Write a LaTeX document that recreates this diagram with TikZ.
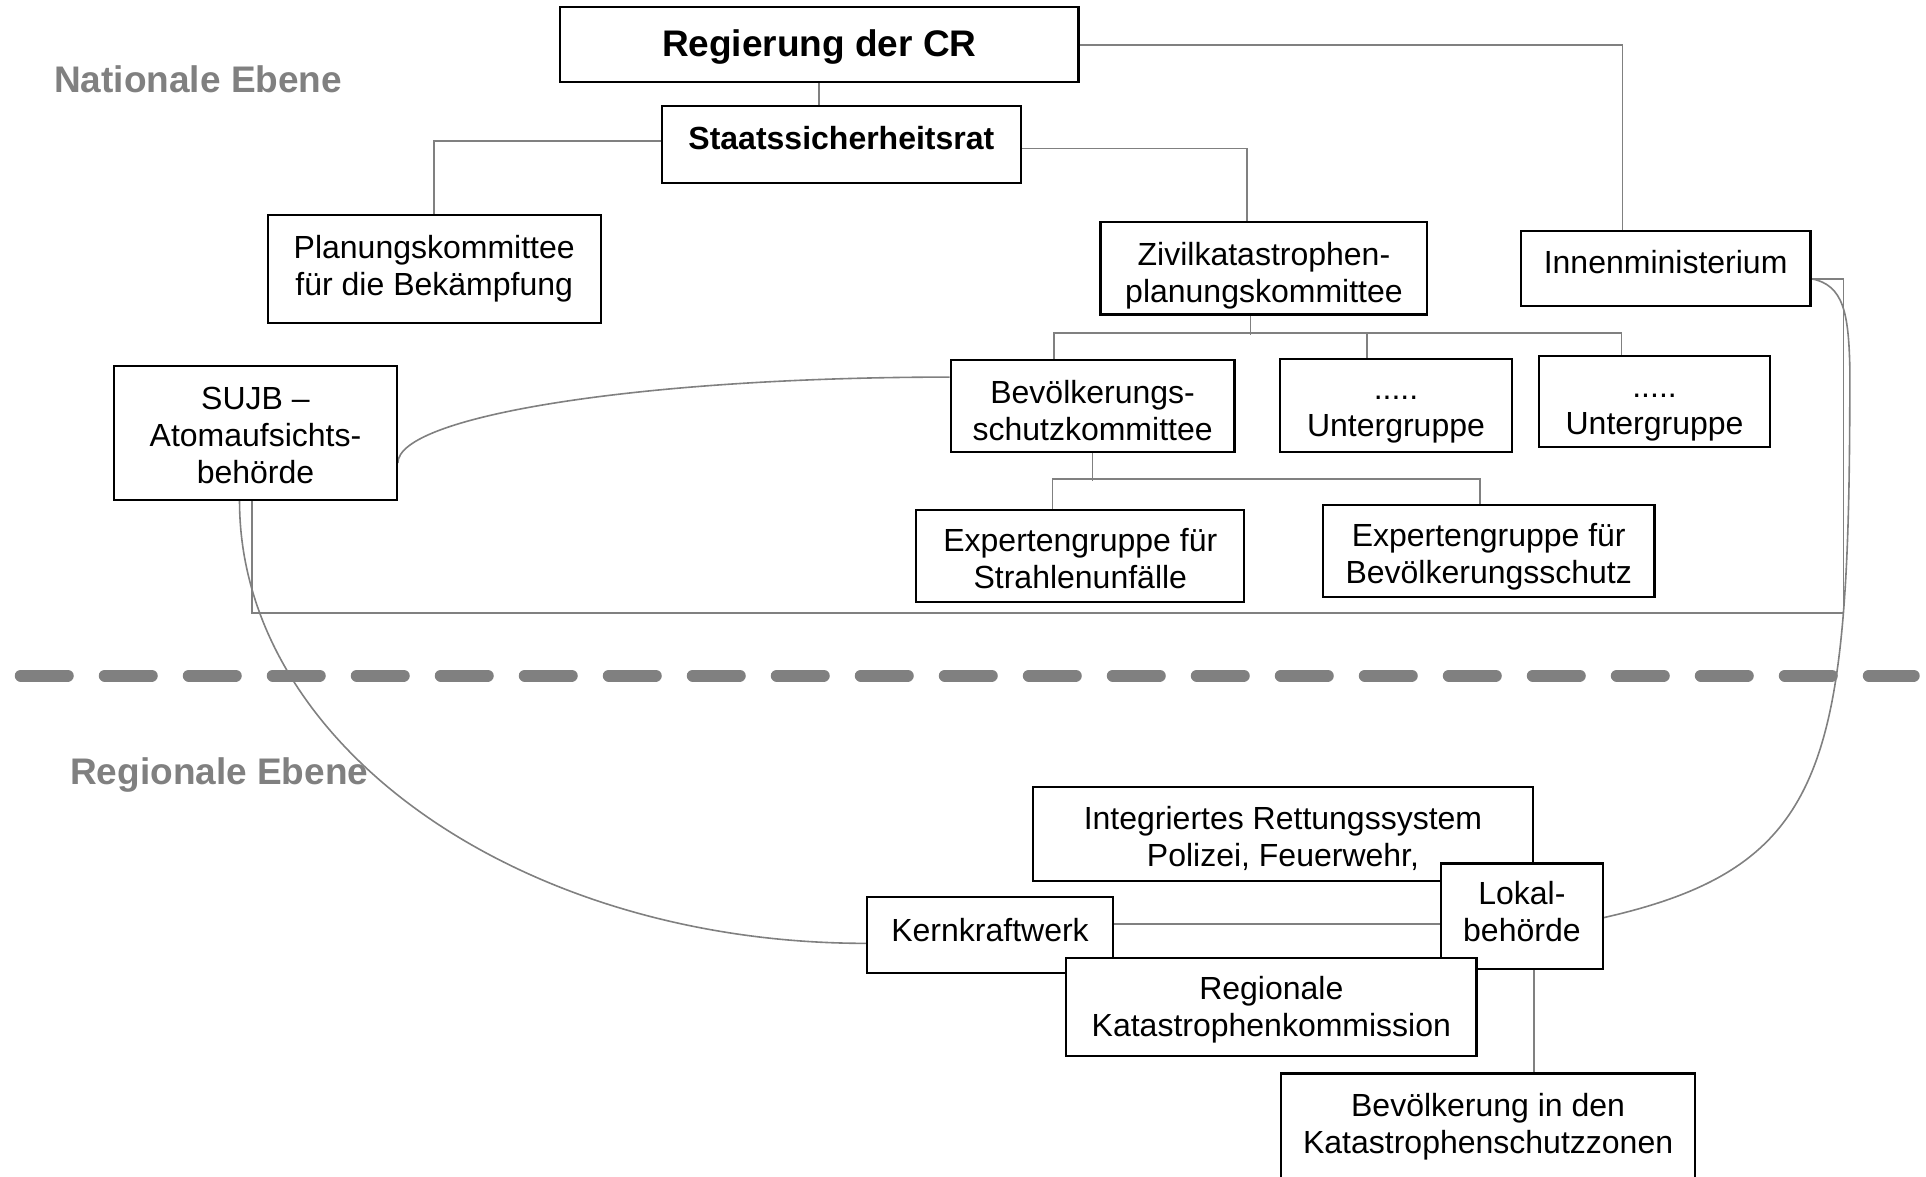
\documentclass[tikz,border=0pt]{standalone}
\usepackage{fontspec}
\setmainfont{Liberation Sans}
\usetikzlibrary{calc}
\pgfdeclarelayer{bg}
\pgfsetlayers{bg,main}
\definecolor{lgray}{HTML}{808080}
% box from (x1,y1) to (x2,y2) in reference pixels; text moved down by #8
\newcommand\bx[8][]{\node[box,minimum width={(#4-#2)*1.2283pt},minimum height={(#5-#3)*1.2283pt},
  label={[lbl,#1,yshift={-(#8)*1.2283pt}]center:{#7}}] (#6) at ({(#2+#4)/2},{(#3+#5)/2}) {};}
\begin{document}
\begin{tikzpicture}[x=1.2283pt,y=-1.2283pt,
  box/.style={draw=black, line width=2.2pt, fill=white, inner sep=0pt},
  lbl/.style={font=\fontsize{32}{37}\selectfont, align=center, inner sep=0pt},
  conn/.style={draw=lgray, line width=1.6pt},
  level/.style={text=lgray, font=\fontsize{37}{44}\selectfont\bfseries, anchor=base west, inner sep=0pt}]
\useasboundingbox (0,0) rectangle (1568,958);

% national level
\bx[font=\fontsize{37}{42}\selectfont\bfseries]{456}{6}{878}{67}{reg}{Regierung der CR}{2}
\bx[font=\fontsize{32}{37}\selectfont\bfseries]{539}{86}{831}{149}{ssr}{Staatssicherheitsrat}{-5.5}
\bx{218}{175}{489}{263}{plan}{Planungskommittee\\für die Bekämpfung}{0}
\bx{896}{181}{1162}{256}{zk}{Zivilkatastrophen-\\planungskommittee}{6}
\bx{1238}{188}{1474}{249}{inn}{Innenministerium}{-5.5}
\bx{93}{298}{323}{407}{sujb}{SUJB –\\Atomaufsichts-\\behörde}{2}
\bx{774}{293}{1005}{368}{bsk}{Bevölkerungs-\\schutzkommittee}{4}
\bx{1042}{292}{1231}{368}{ug1}{.....\\Untergruppe}{12}
\bx{1253}{290}{1441}{364}{ug2}{.....\\Untergruppe}{13}
\bx{746}{415}{1013}{490}{ex1}{Expertengruppe für\\Strahlenunfälle}{2.5}
\bx{1077}{411}{1347}{486}{ex2}{Expertengruppe für\\Bevölkerungsschutz}{5}

% regional level
\bx{841}{641}{1248}{717}{irs}{Integriertes Rettungssystem\\Polizei, Feuerwehr,}{3.5}
\bx{1173}{703}{1305}{789}{lok}{Lokal-\\behörde}{-3.5}
\bx{706}{730}{906}{792}{kkw}{Kernkraftwerk}{-4}
\bx{868}{780}{1202}{860}{rkk}{Regionale\\Katastrophenkommission}{2}
\bx{1043}{874}{1380}{975}{bevz}{Bevölkerung in den\\Katastrophenschutzzonen}{-7.5}

\coordinate (bend) at (1506,300);

\begin{pgfonlayer}{bg}
\node[level] (nat) at (44,75) {Nationale Ebene};
\node[level] (regl) at (57,639) {Regionale Ebene};
\draw[line width=12pt, lgray, line cap=round, dash pattern=on 47pt off 37pt] (16.9,550) -- (1558,550);

\draw[conn] (reg.south) -- (reg.south |- ssr.north);
\draw[conn] ($(ssr.west)+(0,-2.5)$) -| (plan.north);
\draw[conn] ($(ssr.east)+(0,3.5)$) -| ($(zk.north)+(-14,0)$);
\draw[conn] (reg.east) -| ($(inn.north)+(-35,0)$);
\draw[conn] ($(zk.south)+(-11,0)$) -- ++(0,16);
\draw[conn] ($(bsk.north)+(-31.5,0)$) |- ($(ug2.north)+(-27,-18)$) -- ($(ug2.north)+(-27,0)$);
\draw[conn] ($(ug1.north)+(-23.5,0)$) -- ++(0,-20);
\draw[conn] (bsk.south) -- ++(0,23);
\draw[conn] ($(ex1.north)+(-22.5,0)$) |- ($(ex2.north)+(-7,-20)$) -- ($(ex2.north)+(-7,0)$);

\draw[conn] ($(sujb.east)+(0,24.5)$) .. controls +(0,-38.7) and +(-248.5,0) .. ($(bsk.west)+(0,-23.5)$);
\draw[conn] ($(sujb.south)+(-13,0)$) .. controls +(0,199) and +(-282.2,0) .. ($(kkw.west)+(0,7)$);
\draw[conn] ($(sujb.south)+(-3,0)$) -- ++(0,91) -| ($(inn.east)+(26,8.5)$) -- ($(inn.east)+(0,8.5)$);
\draw[conn] ($(inn.east)+(0,8.5)$) .. controls +(26,5) and +(-1,-45) .. (bend)
  .. controls +(0,320) and +(185,-42) .. ($(lok.east)+(0,1)$);
\draw[conn] ($(lok.west)+(0,6)$) -- ($(kkw.east)+(0,-9)$);
\draw[conn] ($(lok.south)+(10,0)$) -- ($(bevz.north)+(37.5,0)$);
\end{pgfonlayer}
\end{tikzpicture}
\end{document}
